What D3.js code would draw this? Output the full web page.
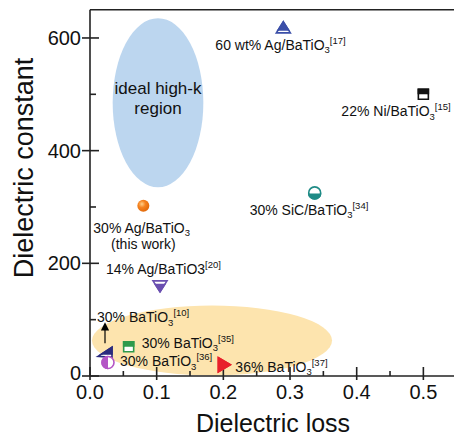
<!DOCTYPE html>
<html><head><meta charset="utf-8">
<script src="https://cdn.jsdelivr.net/npm/d3@7"></script>
<style>body{margin:0;background:#fff}svg{display:block}text{font-family:"Liberation Sans",Arial,sans-serif}</style>
</head><body><svg id="c" width="454" height="439"></svg>
<script>
// ---- data ----
const pointIds = ["ag60","ni22","ag30","sic30","ag14","bt10","bt35","bt36","bt37"];
const lossValues = [0.29, 0.50, 0.08, 0.337, 0.105, 0.0225, 0.058, 0.027, 0.20];
const constantValues = [618, 500, 302, 325, 160, 42, 52, 24, 20];
const shapes = ["triUp","square","sphere","circle","triDown","triLeft","square","circle","triRight"];
const colors = ["#3b4fa8","#111111","#f57a16","#1f8b86","#6a4fb0","#2b2b7e","#2f9a4c","#b456c6","#e8202b"];
const fillModes = ["top","top","full","bottom","bottom","top","top","left","full"];
const labelParts = [
  [["60 wt% Ag/BaTiO"],["3","sub"],["[17]","sup"]],
  [["22% Ni/BaTiO"],["3","sub"],["[15]","sup"]],
  [["30% Ag/BaTiO"],["3","sub"]],
  [["30% SiC/BaTiO"],["3","sub"],["[34]","sup"]],
  [["14% Ag/BaTiO3"],["[20]","sup"]],
  [["30% BaTiO"],["3","sub"],["[10]","sup"]],
  [["30% BaTiO"],["3","sub"],["[35]","sup"]],
  [["30% BaTiO"],["3","sub"],["[36]","sup"]],
  [["36% BaTiO"],["3","sub"],["[37]","sup"]]
];
const xMajorTicks = [0,0.1,0.2,0.3,0.4,0.5];
const xMinorTicks = [0.05,0.15,0.25,0.35,0.45,0.55];
const yMajorTicks = [0,200,400,600];
const yMinorTicks = [100,300,500];
const regionNames = ["ideal high-k region","low-k region"];
const regionCenterLoss = [0.102, 0.183];
const regionCenterConst = [485, 63];
const regionHalfLoss = [0.068, 0.18];
const regionHalfConst = [150, 62];
const arrowLoss = [0.0225, 0.0225];
const arrowConst = [58, 88];

// ---- layout ----
const labelLayout = [ // pixel offsets from marker
  [-68, 22],[-82, 22],[-50, 27],[-65, 22],
  [-54, -12],[-8, -30],[13, 1],[12, 4],[12, 7]
];
const svg = d3.select("#c");
const x = d3.scaleLinear().domain([0,0.55]).range([90,456.7]);
const y = d3.scaleLinear().domain([0,650]).range([376,9.8]);

// regions
const regionColors = ["#bcd6ef","#fde4ae"];
svg.selectAll("ellipse.reg").data(regionNames).join("ellipse")
  .attr("cx",(d,i)=>x(regionCenterLoss[i])).attr("cy",(d,i)=>y(regionCenterConst[i]))
  .attr("rx",(d,i)=>x(regionHalfLoss[i])-x(0)).attr("ry",(d,i)=>y(0)-y(regionHalfConst[i]))
  .attr("fill",(d,i)=>regionColors[i]);
svg.append("text").attr("x",x(0.102)).attr("y",94).attr("text-anchor","middle")
  .attr("font-size",17).attr("fill","#111").text("ideal high-k");
svg.append("text").attr("x",x(0.102)).attr("y",114).attr("text-anchor","middle")
  .attr("font-size",17).attr("fill","#111").text("region");

// axes frame
const g = svg.append("g").attr("stroke","#222").attr("stroke-width",1.6);
g.append("line").attr("x1",x(0)).attr("x2",x(0)).attr("y1",y(650)).attr("y2",y(0));
g.append("line").attr("x1",x(0)).attr("x2",454).attr("y1",y(0)).attr("y2",y(0));
g.append("line").attr("x1",x(0)).attr("x2",454).attr("y1",y(650)).attr("y2",y(650));
g.selectAll("line.xM").data(xMajorTicks).join("line").attr("class","xM")
  .attr("x1",d=>x(d)).attr("x2",d=>x(d)).attr("y1",y(0)+4).attr("y2",y(0)-9);
g.selectAll("line.xm").data(xMinorTicks).join("line").attr("class","xm")
  .attr("x1",d=>x(d)).attr("x2",d=>x(d)).attr("y1",y(0)).attr("y2",y(0)-5);
g.selectAll("line.yM").data(yMajorTicks).join("line").attr("class","yM")
  .attr("x1",x(0)-8).attr("x2",x(0)+9).attr("y1",d=>y(d)).attr("y2",d=>y(d));
g.selectAll("line.ym").data(yMinorTicks).join("line").attr("class","ym")
  .attr("x1",x(0)).attr("x2",x(0)+6).attr("y1",d=>y(d)).attr("y2",d=>y(d));

svg.selectAll("text.xt").data(xMajorTicks).join("text").attr("class","xt")
  .attr("x",d=>x(d)).attr("y",399).attr("text-anchor","middle").attr("font-size",20).attr("fill","#111")
  .text(d3.format(".1f"));
svg.selectAll("text.yt").data(yMajorTicks).join("text").attr("class","yt")
  .attr("x",x(0)-9).attr("y",d=>y(d)+(d===0?4:7)).attr("text-anchor","end").attr("font-size",20).attr("fill","#111")
  .text(d=>d);
svg.append("text").attr("x",273).attr("y",432).attr("text-anchor","middle").attr("font-size",25).attr("fill","#111").text("Dielectric loss");
svg.append("text").attr("transform","translate(33,168) rotate(-90)").attr("text-anchor","middle").attr("font-size",27).attr("fill","#111").text("Dielectric constant");

// arrow
const defs = svg.append("defs");
defs.append("marker").attr("id","ah").attr("viewBox","0 0 10 10").attr("refX",5).attr("refY",5)
  .attr("markerWidth",7).attr("markerHeight",7).attr("orient","auto")
  .append("path").attr("d","M0,0L10,5L0,10z").attr("fill","#000");
svg.append("line").attr("x1",x(arrowLoss[0])).attr("x2",x(arrowLoss[1])).attr("y1",y(arrowConst[0])).attr("y2",y(arrowConst[1]))
  .attr("stroke","#000").attr("stroke-width",1.2).attr("marker-end","url(#ah)");

// gradient for sphere
const rg = defs.append("radialGradient").attr("id","sph").attr("cx","0.38").attr("cy","0.35").attr("r","0.65");
rg.append("stop").attr("offset","0").attr("stop-color","#ffd08a");
rg.append("stop").attr("offset","0.45").attr("stop-color","#f58320");
rg.append("stop").attr("offset","1").attr("stop-color","#e26a0a");

function shapePath(s){
  switch(s){
    case "triUp": return "M0,-6L7,5L-7,5Z";
    case "triDown": return "M0,6L7,-5L-7,-5Z";
    case "triLeft": return "M-7,4L7,-5L7,5Z";
    case "triRight": return "M7,0L-5,-7L-5,7Z";
    case "square": return "M-5,-5H5V5H-5Z";
    default: return "M-6,0A6,6 0 1,0 6,0A6,6 0 1,0 -6,0Z";
  }
}
function clipRect(m){
  if(m==="top") return [-10,-10,20,12.5];
  if(m==="bottom") return [-10,0.5,20,10];
  if(m==="left") return [-10,-10,10,20];
  return [-10,-10,20,20];
}
pointIds.forEach((id,i)=>{
  const cx = x(lossValues[i]), cy = y(constantValues[i]);
  const gg = svg.append("g").attr("transform",`translate(${cx},${cy})`);
  const p = shapePath(shapes[i]);
  if(shapes[i]==="sphere"){
    gg.append("path").attr("d",p).attr("fill","url(#sph)");
    return;
  }
  let cr = clipRect(fillModes[i]);
  if(shapes[i]==="triUp") cr=[-10,-10,20,13];
  if(shapes[i]==="triDown") cr=[-10,-2,20,12];
  if(shapes[i]==="square" && fillModes[i]==="top") cr=[-10,-10,20,10];
  defs.append("clipPath").attr("id","cl"+id).append("rect")
    .attr("x",cr[0]).attr("y",cr[1]).attr("width",cr[2]).attr("height",cr[3]);
  gg.append("path").attr("d",p).attr("fill","#fff").attr("stroke",colors[i]).attr("stroke-width",1.6);
  gg.append("path").attr("d",p).attr("fill",colors[i]).attr("stroke",colors[i]).attr("stroke-width",1.6)
    .attr("clip-path",`url(#cl${id})`);
});

// labels
pointIds.forEach((id,i)=>{
  const [dx,dy] = labelLayout[i];
  const t = svg.append("text").attr("x",x(lossValues[i])+dx).attr("y",y(constantValues[i])+dy)
    .attr("font-size",14).attr("fill","#111");
  const hasSub = labelParts[i].some(q=>q[1]==="sub");
  labelParts[i].forEach(([s,k])=>{
    const ts = t.append("tspan").text(s);
    if(k==="sub") ts.attr("font-size",9.5).attr("dy",3.5);
    else if(k==="sup") ts.attr("font-size",9.5).attr("dy",hasSub?-9.5:-6);
  });
  if(id==="ag30"){
    svg.append("text").attr("x",x(lossValues[i])).attr("y",y(constantValues[i])+43)
      .attr("text-anchor","middle").attr("font-size",14).attr("fill","#111").text("(this work)");
  }
});
</script></body></html>
